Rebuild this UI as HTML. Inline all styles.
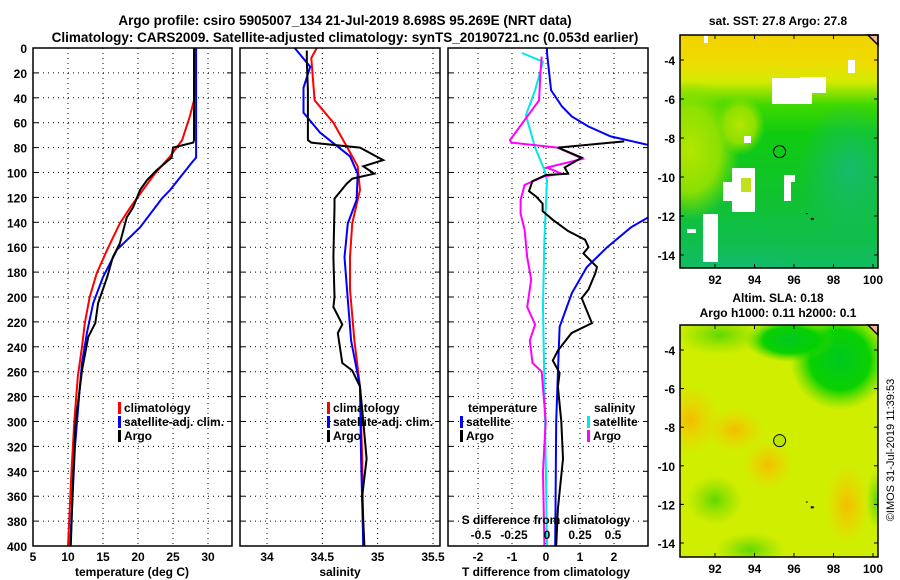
<!DOCTYPE html>
<html><head><meta charset="utf-8"><style>
html,body{margin:0;padding:0;background:#fff;}
svg{display:block;font-family:"Liberation Sans",sans-serif;font-weight:bold;}
</style></head><body>
<svg id="c" width="900" height="580" viewBox="0 0 900 580" xmlns="http://www.w3.org/2000/svg">
<defs>
<clipPath id="cp1"><rect x="33" y="48" width="199" height="498"/></clipPath>
<clipPath id="cp2"><rect x="240" y="48" width="200" height="498"/></clipPath>
<clipPath id="cp3"><rect x="448" y="48" width="200" height="498"/></clipPath>
<clipPath id="mc1"><rect x="680" y="35" width="198" height="233"/></clipPath>
<clipPath id="mc2"><rect x="680" y="325" width="198" height="232"/></clipPath>
<linearGradient id="sstg" x1="0" y1="0" x2="0" y2="1">
<stop offset="0" stop-color="#f2d200"/><stop offset="0.12" stop-color="#eedc00"/><stop offset="0.2" stop-color="#d4ea00"/><stop offset="0.3" stop-color="#40d800"/><stop offset="0.42" stop-color="#10cc10"/><stop offset="0.7" stop-color="#10c230"/><stop offset="1" stop-color="#10bc60"/></linearGradient>
<radialGradient id="sstl" cx="0.5" cy="0.5" r="0.5"><stop offset="0" stop-color="#b4e600"/><stop offset="0.6" stop-color="#98e200" stop-opacity="0.9"/><stop offset="1" stop-color="#80e000" stop-opacity="0"/></radialGradient>
<radialGradient id="sstt" cx="0.5" cy="0.5" r="0.5"><stop offset="0" stop-color="#18b880" stop-opacity="0.8"/><stop offset="1" stop-color="#18b880" stop-opacity="0"/></radialGradient>
<radialGradient id="og" cx="0.5" cy="0.5" r="0.5"><stop offset="0" stop-color="#f6bc00"/><stop offset="1" stop-color="#f0d000" stop-opacity="0"/></radialGradient>
<radialGradient id="gg" cx="0.5" cy="0.5" r="0.5"><stop offset="0" stop-color="#00c820"/><stop offset="0.6" stop-color="#00d000" stop-opacity="0.95"/><stop offset="1" stop-color="#40d800" stop-opacity="0"/></radialGradient>
<radialGradient id="lg" cx="0.5" cy="0.5" r="0.5"><stop offset="0" stop-color="#60d800"/><stop offset="1" stop-color="#80dc00" stop-opacity="0"/></radialGradient>
</defs>
<g id="root"></g>
</svg>
<script>
// ---------- data ----------
const tDepthClim = [0,35,42,55,74,87,101,121,128,141,162,181,200,221,240,264,300,340,400];
const tClim      = [28.1,28.1,28,27.4,26.3,24.6,22.4,19.8,18.9,17.4,15.6,14.1,13.1,12.4,12.0,11.4,10.9,10.5,10.0];
const tDepthSat  = [0,88,92,114,121,144,162,184,205,229,253,272,320,400];
const tSat       = [28.3,28.3,27.7,24.6,23.4,20.3,17.0,15.0,13.6,12.7,12.0,11.7,11.0,10.3];
const tDepthArgo = [0,74,76,80,88,98,106,114,128,136,157,168,184,205,221,232,259,300,350,400];
const tArgo      = [28.0,28.0,27.9,25.0,24.8,22.7,21.3,20.3,19.3,18.4,17.4,16.4,15.6,14.3,13.9,12.9,12.0,11.1,10.7,10.4];

const sDepthClim = [0,8,42,60,79,95,114,141,168,194,235,272,330,400];
const sClim      = [34.45,34.40,34.43,34.60,34.72,34.82,34.84,34.77,34.75,34.75,34.79,34.84,34.86,34.87];
const sDepthSat  = [0,15,32,52,68,87,101,122,141,168,202,235,272,330,400];
const sSat       = [34.25,34.39,34.33,34.33,34.48,34.75,34.82,34.81,34.73,34.70,34.73,34.76,34.84,34.85,34.87];
const sDepthArgo = [2,10,34,74,76,80,90,95,101,105,109,121,128,168,200,208,222,229,253,259,272,300,330,360,400];
const sArgo      = [34.36,34.36,34.37,34.37,34.40,34.84,35.05,34.87,34.97,34.77,34.72,34.61,34.61,34.60,34.61,34.60,34.68,34.64,34.68,34.77,34.84,34.87,34.90,34.86,34.88];

const dtDepthSat = [0,4,34,47,55,63,71,79,133,144,160,176,197,224,261,300,400];
const dtSat      = [0.03,0.03,0.15,0.47,0.76,1.24,1.9,3.2,3.2,2.5,1.8,1.2,0.76,0.4,0.35,0.3,0.27];
const dtDepthArgo= [75,80,88,96,101,102,107,115,119,125,131,138,147,154,160,165,176,181,194,201,221,229,243,251,261,272,300,330,370,400];
const dtArgo     = [2.3,0.35,1.05,0.55,0.65,0,-0.4,-0.5,-0.3,-0.1,-0.1,0.2,0.65,1.15,1.25,1.1,1.5,1.45,1.25,1.05,1.35,0.75,0.35,0.2,0.4,0.35,0.45,0.5,0.35,0.3];
const dsDepthSat = [4,11,34,54,80,98,106,154,208,272,330,400];
const dsSat      = [-0.19,-0.03,-0.09,-0.16,-0.09,-0.02,0,-0.02,-0.03,-0.02,-0.01,0.0];
const dsDepthArgo= [7,20,42,74,76,80,89,96,101,103,110,122,133,146,168,186,208,222,235,253,260,300,340,400];
const dsArgo     = [-0.04,-0.05,-0.06,-0.28,-0.27,0.08,0.27,0,0.11,-0.02,-0.17,-0.2,-0.2,-0.17,-0.15,-0.12,-0.15,-0.09,-0.13,-0.11,-0.04,-0.01,-0.03,-0.02];

const depthTicks = [0,20,40,60,80,100,120,140,160,180,200,220,240,260,280,300,320,340,360,380,400];
const tTicks = [5,10,15,20,25,30];
const sTicks = [34,34.5,35,35.5];
const dtTicks = [-2,-1,0,1,2];
const dsTicks = [-0.5,-0.25,0,0.25,0.5];
const latTicks = [-4,-6,-8,-10,-12,-14];
const lonTicks = [92,94,96,98,100];

// ---------- helpers ----------
const NS="http://www.w3.org/2000/svg";
const root=document.getElementById('root');
function mk(tag,attrs,parent){const e=document.createElementNS(NS,tag);for(const k in attrs)e.setAttribute(k,attrs[k]);(parent||root).appendChild(e);return e;}
function txt(x,y,s,anchor,size,parent){const e=mk('text',{x:x,y:y,'text-anchor':anchor||'middle','font-size':size||12,fill:'#000'},parent);e.textContent=s;return e;}

const Y0=48,Y1=546;
function yD(d){return Y0+(d/400)*(Y1-Y0);}
function lin(d0,d1,p0,p1){return v=>p0+(v-d0)*(p1-p0)/(d1-d0);}
const xT=lin(5,30,33,208);
const xS=lin(34,35.5,267,433);
const xDT=lin(0,1,546,580);
const xDS=lin(0,0.25,547,580);

function frame(x0,x1,name){
  const g=mk('g',{});
  
  
  depthTicks.forEach(d=>{
    const y=yD(d);
    if(d>0&&d<400) mk('line',{x1:x0,x2:x1,y1:y,y2:y,stroke:'#000','stroke-width':1,'stroke-dasharray':'1,4'},g);
    mk('line',{x1:x0,x2:x0+5,y1:y,y2:y,stroke:'#000','stroke-width':1},g);
    mk('line',{x1:x1-5,x2:x1,y1:y,y2:y,stroke:'#000','stroke-width':1},g);
  });
  return g;
}
function vgrid(g,ticks,sc){
  ticks.forEach(t=>{
    const x=sc(t);
    mk('line',{x1:x,x2:x,y1:Y0,y2:Y1,stroke:'#000','stroke-width':1,'stroke-dasharray':'1,4'},g);
  });
}
function series(xs,ds,sc,color,clip,name){
  const pts=xs.map((v,i)=>sc(v).toFixed(1)+','+yD(ds[i]).toFixed(1)).join(' ');
  const p=mk('polyline',{points:pts,fill:'none',stroke:color,'stroke-width':2,'clip-path':'url(#'+clip+')'});
  
  
  return p;
}

// titles
const t1=txt(345,25,'Argo profile: csiro 5905007_134 21-Jul-2019 8.698S 95.269E (NRT data)','middle',13.5);


const t2=txt(345,42,'Climatology: CARS2009. Satellite-adjusted climatology: synTS_20190721.nc (0.053d earlier)','middle',13.5);



// ---- panel 1 ----
const g1=frame(33,232,'temperature-panel');
vgrid(g1,[10,15,20,25,30],xT);
depthTicks.forEach(d=>{const e=txt(27,yD(d)+5,String(d),'end',12);});
tTicks.forEach(t=>{const e=txt(xT(t),561,String(t),'middle',12);});
const xl1=txt(132,576,'temperature (deg C)','middle',12);


series(tClim,tDepthClim,xT,'#ff0000','cp1','temp-climatology-line');
series(tSat,tDepthSat,xT,'#0000ff','cp1','temp-satellite-line');
series(tArgo,tDepthArgo,xT,'#000000','cp1','temp-argo-line');
mk('rect',{x:33,y:48,width:199,height:498,fill:'none',stroke:'#000','stroke-width':1.5});

// ---- panel 2 ----
const g2=frame(240,440,'salinity-panel');
vgrid(g2,sTicks,xS);
sTicks.forEach(t=>{const e=txt(xS(t),561,String(t),'middle',12);});
const xl2=txt(340,576,'salinity','middle',12);


series(sClim,sDepthClim,xS,'#ff0000','cp2','sal-climatology-line');
series(sSat,sDepthSat,xS,'#0000ff','cp2','sal-satellite-line');
series(sArgo,sDepthArgo,xS,'#000000','cp2','sal-argo-line');
mk('rect',{x:240,y:48,width:200,height:498,fill:'none',stroke:'#000','stroke-width':1.5});

// ---- panel 3 ----
const g3=frame(448,648,'difference-panel');
vgrid(g3,dtTicks,xDT);
dtTicks.forEach(t=>{const e=txt(xDT(t),561,String(t),'middle',12);});
const xl3=txt(546,576,'T difference from climatology','middle',12);


series(dsSat,dsDepthSat,xDS,'#00e8e8','cp3','s-diff-satellite-line');
series(dsArgo,dsDepthArgo,xDS,'#ff00ff','cp3','s-diff-argo-line');
series(dtSat,dtDepthSat,xDT,'#0000ff','cp3','t-diff-satellite-line');
series(dtArgo,dtDepthArgo,xDT,'#000000','cp3','t-diff-argo-line');
mk('rect',{x:448,y:48,width:200,height:498,fill:'none',stroke:'#000','stroke-width':1.5});
const sl=txt(546,524,'S difference from climatology','middle',12);


dsTicks.forEach(t=>{const e=txt(xDS(t),539,String(t),'middle',12);});

// legends
function legItem(x,y,color,label,name){
  const g=mk('g',{});
  
  
  mk('rect',{x:x,y:y-10,width:3,height:12,fill:color},g);
  txt(x+6,y,label,'start',12,g);
}
legItem(118,412,'#ff0000','climatology','legend-temp-climatology');
legItem(118,426,'#0000ff','satellite-adj. clim.','legend-temp-satellite');
legItem(118,440,'#000000','Argo','legend-temp-argo');
legItem(327,412,'#ff0000','climatology','legend-sal-climatology');
legItem(327,426,'#0000ff','satellite-adj. clim.','legend-sal-satellite');
legItem(327,440,'#000000','Argo','legend-sal-argo');
const lt=txt(468,412,'temperature','start',12);
legItem(460,426,'#0000ff','satellite','legend-tdiff-satellite');
legItem(460,440,'#000000','Argo','legend-tdiff-argo');
const ls=txt(594,412,'salinity','start',12);
legItem(587,426,'#00e8e8','satellite','legend-sdiff-satellite');
legItem(587,440,'#ff00ff','Argo','legend-sdiff-argo');

// ---------- maps ----------
const MX0=680,MX1=878;
const lonX=lin(92,100,715,873);
function mapAxes(y0,y1,latY,name){
  latTicks.forEach(l=>{
    const y=latY(l);
    mk('line',{x1:MX0,x2:MX0+4,y1:y,y2:y,stroke:'#000'});
    mk('line',{x1:MX1-4,x2:MX1,y1:y,y2:y,stroke:'#000'});
    const e=txt(675,y+5,String(l),'end',12);
    
    
  });
  lonTicks.forEach(l=>{
    const x=lonX(l);
    mk('line',{x1:x,x2:x,y1:y1-4,y2:y1,stroke:'#000'});
    mk('line',{x1:x,x2:x,y1:y0,y2:y0+4,stroke:'#000'});
    const e=txt(x,y1+16,String(l),'middle',12);
    
    
  });
  mk('polygon',{points:(MX1-10)+','+y0+' '+MX1+','+y0+' '+MX1+','+(y0+10),fill:'#f0b0a0',stroke:'#000','stroke-width':1.5});
  mk('rect',{x:MX0,y:y0,width:MX1-MX0,height:y1-y0,fill:'none',stroke:'#000','stroke-width':1.5});
}
// SST map
const latY1=lin(-4,-14,60,255);
const m1=mk('g',{'clip-path':'url(#mc1)'});


mk('rect',{x:680,y:35,width:198,height:233,fill:'url(#sstg)'},m1);
mk('ellipse',{cx:690,cy:150,rx:50,ry:70,fill:'url(#sstl)'},m1);
mk('ellipse',{cx:740,cy:125,rx:25,ry:30,fill:'url(#sstl)'},m1);
mk('ellipse',{cx:745,cy:275,rx:70,ry:25,fill:'url(#sstt)'},m1);
mk('ellipse',{cx:850,cy:170,rx:50,ry:70,fill:'url(#sstt)'},m1);
[[704,35,4,8],[772,78,40,26],[800,77,26,16],[732,168,23,44],[723,182,13,19],[703,214,15,48],[687,229,9,4],[848,60,7,13],[744,136,7,7],[784,175,11,7],[784,182,7,19]].forEach(r=>{
  mk('rect',{x:r[0],y:r[1],width:r[2],height:r[3],fill:'#fff'},m1);
});
mk('rect',{x:741,y:178,width:10,height:14,fill:'#c0e020'},m1);
mk('circle',{cx:lonX(95.27),cy:latY1(-8.698),r:6,fill:'none',stroke:'#000','stroke-width':1},m1);
mk('rect',{x:lonX(96.9)-1,y:latY1(-12.15)-1,width:3,height:2,fill:'#000'},m1);
mk('rect',{x:lonX(96.6),y:latY1(-11.85),width:2,height:1,fill:'#000'},m1);
mapAxes(35,268,latY1,'sst-map');
const mt1=txt(778,25,'sat. SST: 27.8 Argo: 27.8','middle',12);



// SLA map
const latY2=lin(-4,-14,350,543);
const m2=mk('g',{'clip-path':'url(#mc2)'});


mk('rect',{x:680,y:325,width:198,height:232,fill:'#d0ee00'},m2);
mk('ellipse',{cx:840,cy:360,rx:50,ry:50,fill:'url(#gg)'},m2);
mk('ellipse',{cx:790,cy:340,rx:45,ry:22,fill:'url(#gg)'},m2);
mk('ellipse',{cx:720,cy:335,rx:45,ry:20,fill:'url(#lg)'},m2);
mk('ellipse',{cx:690,cy:420,rx:30,ry:35,fill:'url(#og)'},m2);
mk('ellipse',{cx:735,cy:430,rx:30,ry:22,fill:'url(#og)'},m2);
mk('ellipse',{cx:768,cy:465,rx:25,ry:25,fill:'url(#og)'},m2);
mk('ellipse',{cx:847,cy:505,rx:22,ry:40,fill:'url(#og)'},m2);
mk('ellipse',{cx:715,cy:500,rx:28,ry:25,fill:'url(#lg)'},m2);
mk('ellipse',{cx:750,cy:550,rx:35,ry:18,fill:'url(#lg)'},m2);
mk('ellipse',{cx:876,cy:500,rx:10,ry:30,fill:'url(#lg)'},m2);
mk('circle',{cx:lonX(95.27),cy:latY2(-8.698),r:6,fill:'#b8e800',stroke:'#000','stroke-width':1},m2);
mk('rect',{x:lonX(96.9)-1,y:latY2(-12.15)-1,width:3,height:2,fill:'#000'},m2);
mk('rect',{x:lonX(96.6),y:latY2(-11.85),width:2,height:1,fill:'#000'},m2);
mapAxes(325,557,latY2,'sla-map');
const mt2=txt(778,302,'Altim. SLA: 0.18','middle',12);


const mt3=txt(778,317,'Argo h1000: 0.11 h2000: 0.1','middle',12);


const cr=txt(0,0,'©IMOS 31-Jul-2019 11:39:53','middle',11);
cr.setAttribute('transform','translate(894,450) rotate(-90)');
cr.setAttribute('font-weight','normal');


</script>
</body></html>
